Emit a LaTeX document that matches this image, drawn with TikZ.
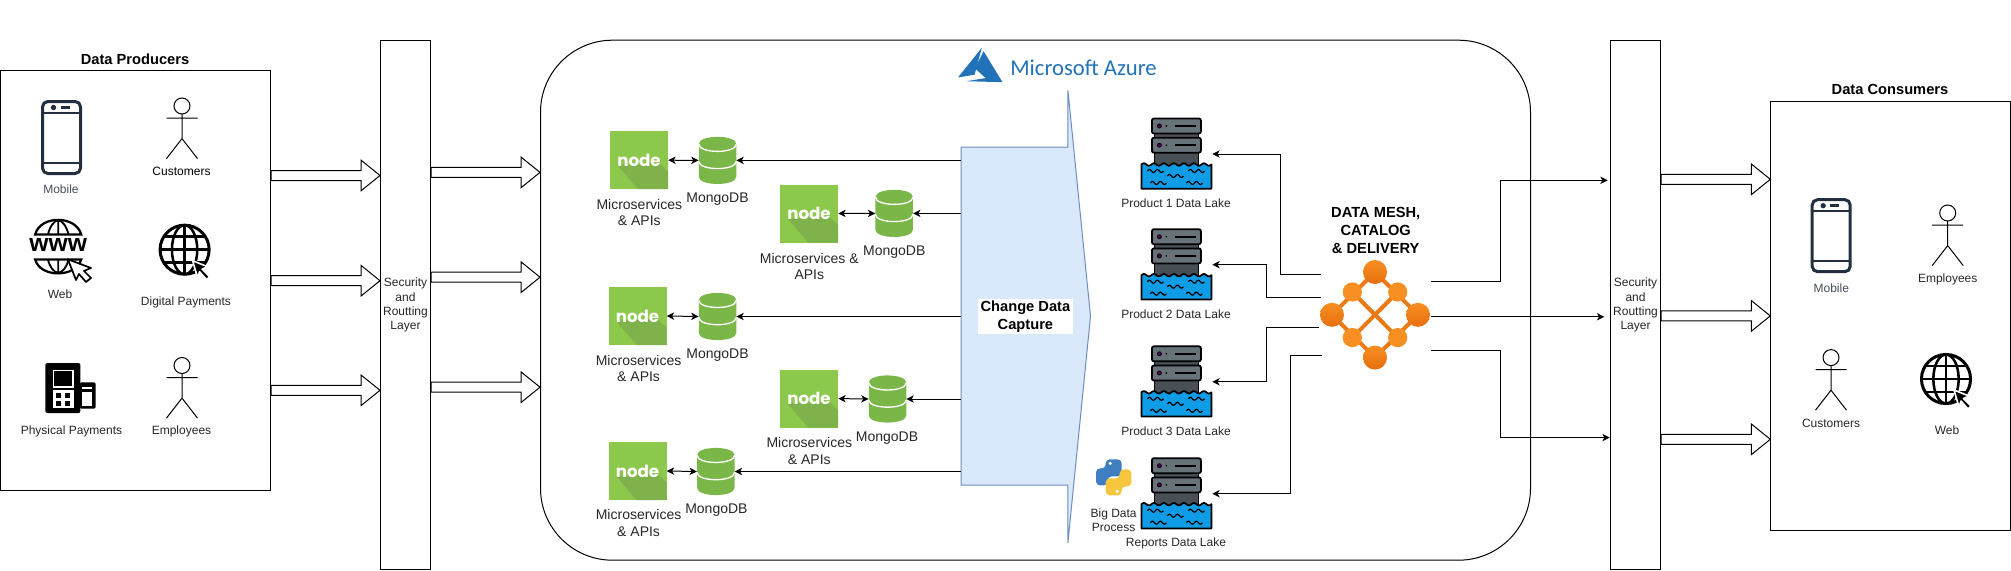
\documentclass[tikz,border=0pt]{standalone}
\usepackage{fontspec}
\setmainfont{Liberation Sans}
\newfontfamily\logofont{Poppins}
\newfontfamily\azurefont{Carlito}
\usetikzlibrary{arrows.meta,calc,positioning}

\definecolor{tilelight}{HTML}{8CC84B}
\definecolor{tiledark}{HTML}{7FB24A}
\definecolor{dbgreen}{HTML}{7AB648}
\definecolor{phoneblue}{HTML}{232F3E}
\definecolor{azureblue}{HTML}{2272B9}
\definecolor{cdcfill}{HTML}{DAE8FC}
\definecolor{cdcline}{HTML}{6C8EBF}
\definecolor{lakeblue}{HTML}{0E9CE6}
\definecolor{servergray}{HTML}{687279}
\definecolor{ballhi}{HTML}{F88F22}
\definecolor{balllo}{HTML}{E66F0E}
\definecolor{pyblue}{HTML}{3F7FC1}
\definecolor{pyyellow}{HTML}{F6C63F}

\tikzset{
  boxed/.style={draw,line width=0.75pt,inner sep=0pt},
  lbl/.style={inner sep=0pt,align=center,text=black!85,font=\fontsize{9}{10.8}\selectfont},
  lblbig/.style={inner sep=0pt,align=center,text=black!85,font=\fontsize{10.5}{12.6}\selectfont},
  lblbold/.style={inner sep=0pt,align=center,font=\fontsize{11}{13.3}\selectfont\bfseries},
  conn/.style={line width=0.75pt,-{Stealth[length=5.5pt,width=5.5pt,inset=1.5pt]}},
  twoway/.style={line width=0.75pt,{Stealth[length=5.5pt,width=5.5pt,inset=1.5pt]}-{Stealth[length=5.5pt,width=5.5pt,inset=1.5pt]}},
  fatarrow/.style={line width=0.75pt,to path={let \p1=(\tikztostart),\p2=(\tikztotarget) in
    (\x1,\y1+3.75pt) -- (\x2-14.25pt,\y1+3.75pt) -- (\x2-14.25pt,\y1+11.5pt) -- (\x2,\y1)
    -- (\x2-14.25pt,\y1-11.5pt) -- (\x2-14.25pt,\y1-3.75pt) -- (\x1,\y1-3.75pt) -- cycle}},
  pics/phoneicon/.style={code={
    \draw[phoneblue,line width=2.25pt,rounded corners=4pt] (-19,-36) rectangle (19,36);
    \draw[phoneblue,line width=1.5pt] (-19,-24.7) -- (19,-24.7) (-19,25.5) -- (19,25.5);
    \fill[phoneblue] (-8,-30) circle[radius=2pt];
    \draw[phoneblue,line width=2pt] (-1,-30) -- (8,-30);
  }},
  pics/actor/.style={code={
    \draw[line width=0.75pt] (0,0) circle[radius=6pt];
    \draw[line width=0.75pt] (0,8) -- (0,32.6) (-15.5,12) -- (15.5,12)
      (-15.5,52.6) -- (0,32.6) -- (15.5,52.6);
  }},
  pics/globeicon/.style={code={
    \draw[line width=2.25pt] (0,0) circle[radius=18.4pt];
    \draw[line width=1.9pt] (0,0) ellipse[x radius=9.5pt,y radius=18.4pt];
    \draw[line width=1.9pt] (0,-24.5) -- (0,24.5) (-24.5,0) -- (24.5,0)
      (-20.5,-13) -- (20.5,-13) (-20.5,13) -- (20.5,13);
    \filldraw[fill=black,draw=white,line width=1.2pt,line join=round] (8,11) -- (23,17) -- (17.5,19.5)
      -- (25,27) -- (22,30) -- (15,22) -- (13,28) -- cycle;
  }},
  pics/wwwicon/.style={code={
    \draw[line width=1.7pt] (-24.8,-15.5) .. controls (-20,-35) and (16,-35) .. (21.2,-15.5) -- cycle;
    \draw[line width=1.4pt] (-1.8,-30) -- (-1.8,-15.5) (-12,-15.5) .. controls (-10,-24) and (-6,-29) .. (-1.8,-30)
      .. controls (2.5,-29) and (6.5,-24) .. (8.5,-15.5);
    \draw[line width=1.7pt] (-24.8,9.5) .. controls (-20,28) and (16,28) .. (21.2,9.5) -- cycle;
    \draw[line width=1.4pt] (-1.8,23) -- (-1.8,9.5) (-12,9.5) .. controls (-10,18) and (-6,22) .. (-1.8,23)
      .. controls (2.5,22) and (6.5,18) .. (8.5,9.5);
    \node[inner sep=0pt,font=\fontsize{18.5}{18.5}\selectfont\bfseries] (txt) at (-1.8,-5) {www};
    \filldraw[fill=white,draw=black,line width=1.3pt,line join=round] (7.9,9.3) -- (31,18) -- (24,21)
      -- (31,28) -- (26,32) -- (19,24) -- (16,30) -- cycle;
  }},
  pics/payicon/.style={code={
    \fill[black,rounded corners=1.5pt] (-25.6,-25) rectangle (9.4,25);
    \fill[black,rounded corners=1pt] (9,-5.6) rectangle (24.7,20.6);
    \fill[white] (11,4) rectangle (21,17.5);
    \fill[white] (11,-1) rectangle (21,0.5);
    \draw[white,line width=1.4pt] (-17.5,-17.5) rectangle (2,-1);
    \fill[white] (-18.5,2.3) rectangle (3,19.6);
    \foreach \kx in {-15.3,-5.6} \foreach \ky in {4.8,12.8} \fill[black] (\kx,\ky) rectangle ++(5,5);
  }},
  pics/nodetile/.style={code={
    \node[minimum width=43.5pt,minimum height=43.5pt,inner sep=0pt,fill=tilelight] (box) at (0,0) {};
    \fill[tiledark] (-21.5,5) -- (-0.8,29) -- (29,29) -- (29,11.3) -- (19.6,2.7) -- cycle;
    \node[inner sep=0pt,text=white,font=\logofont\fontsize{12.5}{13}\selectfont\bfseries] (txt) at (0,0) {node};
  }},
  pics/mongoicon/.style={code={
    \node[minimum width=28pt,minimum height=35pt,inner sep=0pt] (box) at (0,0) {};
    \fill[dbgreen] (-18.75,-16.3) .. controls (-18.75,-26) and (18.75,-26) .. (18.75,-16.3)
      -- (18.75,16.3) .. controls (18.75,26) and (-18.75,26) .. (-18.75,16.3) -- cycle;
    \draw[white,line width=1pt] (-18.75,-16.3) .. controls (-18.75,-6.6) and (18.75,-6.6) .. (18.75,-16.3);
    \draw[white,line width=1pt] (-18.75,0.9) .. controls (-18.75,10.6) and (18.75,10.6) .. (18.75,0.9);
  }},
  pics/lakeicon/.style={code={
    \node[minimum width=53.5pt,minimum height=53.5pt,inner sep=0pt] (box) at (0,0) {};
    \filldraw[fill=servergray!70!black,line width=1.3pt] (-22,-21) rectangle (22,13);
    \foreach \sy in {-28,-8.8} {
      \filldraw[fill=servergray,line width=1.3pt,rounded corners=1.5pt] (-24.5,\sy-7.5) rectangle (24.5,\sy+7.5);
      \filldraw[fill=violet!70!black,line width=0.6pt] (-17,\sy) circle[radius=1.5pt];
      \fill[black] (-10,\sy) circle[radius=0.7pt];
      \draw[line width=1.2pt] (-1,\sy) -- (20,\sy);
    }
    \filldraw[fill=lakeblue,line width=1.3pt,line join=round] (-35,10.5) -- plot[domain=-35:35,samples=71] (\x,{10.5+1.2*sin(\x*36)})
      -- (35,34.7) -- (-35,34.7) -- cycle;
    \foreach \wx/\wy in {-21/17,-1/22,20/17,-18/29,18/29}
      \draw[line width=0.9pt] plot[domain=-8:8,samples=17] ({\wx+\x},{\wy-1.5*sin(\x*45)});
  }},
  pics/meshicon/.style={code={
    \node[minimum width=82.5pt,minimum height=82.5pt,inner sep=0pt] (box) at (0,0) {};
    \draw[balllo!70!ballhi,line width=3pt] (0,-42.8) -- (-43,0) -- (0,42.8) -- (43,0) -- cycle
      (-22.7,-22.8) -- (22.7,22.8) (22.7,-22.8) -- (-22.7,22.8);
    \foreach \bx/\by in {0/-42.8,-43/0,43/0,0/42.8}
      \shade[top color=ballhi,bottom color=balllo] (\bx,\by) circle[radius=9pt];
    \foreach \bx/\by in {-22.7/-22.8,22.7/-22.8,-22.7/22.8,22.7/22.8}
      \fill[ballhi] (\bx,\by) circle[radius=7.2pt];
  }},
  pics/pyicon/.style={code={
    \fill[pyblue,rounded corners=3pt] (-8,-9) -- (-8,-18) -- (8,-18) -- (8,-1) -- (-6,-1) -- (-6,8) -- (-17.7,8) -- (-17.7,-9) -- cycle;
    \fill[pyyellow,rounded corners=3pt] (8,9) -- (8,18) -- (-8,18) -- (-8,1) -- (6,1) -- (6,-8) -- (17.7,-8) -- (17.7,9) -- cycle;
    \fill[white] (-3.5,-14) circle[radius=1.3pt] (3.5,14) circle[radius=1.3pt];
  }},
  pics/azureicon/.style={code={
    \fill[azureblue] (1.8,-17.2) -- (-22,12.4) -- (-5.4,9.7) -- cycle;
    \fill[azureblue] (3.6,-13.8) -- (-5,3.4) -- (5.7,13.1) -- (-13.6,16.2) -- (22.5,17.2) -- cycle;
  }},
}

\begin{document}
\begin{tikzpicture}[x=0.75pt,y=-0.75pt]
\useasboundingbox (0,0) rectangle (2011,571);


% Producers
\node[boxed,minimum width=202.5pt,minimum height=314.7pt] (prod) at (135.5,280.5) {};
\node[lblbold] (prodtitle) at (135,59) {Data Producers};
\pic (prodphone) at (61.5,137.5) {phoneicon};
\node[lbl,text=phoneblue!85] (prodmobile) at (61,189.3) {Mobile};
\pic (prodactor1) at (182,106) {actor};
\node[lbl,text=black] (prodcust) at (181.5,171.4) {Customers};
\pic (prodwww) at (60,250) {wwwicon};
\node[lbl] (prodweb) at (60,294.5) {Web};
\pic (prodglobe) at (184.6,249.7) {globeicon};
\node[lbl] (proddigital) at (186,302.4) {Digital Payments};
\pic (prodpay) at (71,388) {payicon};
\node[lbl] (prodphys) at (71.5,431.4) {Physical Payments};
\pic (prodactor2) at (182,365.5) {actor};
\node[lbl] (prodemp) at (181.5,431.4) {Employees};

% Security bars
\node[boxed,lbl,text=black!85,minimum width=37.5pt,minimum height=397pt] (bar1) at (405.5,305.2) {Security\\and\\Routting\\Layer};
\node[boxed,lbl,text=black!85,minimum width=37.5pt,minimum height=397pt] (bar2) at (1635.5,305.2) {Security\\and\\Routting\\Layer};

% Azure frame
\node[boxed,minimum width=742.5pt,minimum height=390pt,rounded corners=54pt] (azure) at (1035.5,300.2) {};
\pic (azurelogo) at (980,65) {azureicon};
\node[inner sep=0pt,text=azureblue,font=\azurefont\fontsize{17}{20}\selectfont] (azuretext) at (1083.5,68) {Microsoft Azure};

% Fat arrows
\foreach \yy in {175.5,280.7,390.3}
  \draw[fatarrow] (prod.east |- 0,\yy) to (bar1.west |- 0,\yy);
\foreach \yy in {172.4,277.2,387.2}
  \draw[fatarrow] (bar1.east |- 0,\yy) to (azure.west |- 0,\yy);
\foreach \yy in {179.3,315.9,439.3}
  \draw[fatarrow] (bar2.east |- 0,\yy) to (1770.3,\yy);

% Change data capture
\node[inner sep=0pt,minimum width=80pt,minimum height=253.5pt] (cdcbody) at (1014.5,316.2) {};
\draw[fill=cdcfill,draw=cdcline,line width=0.75pt] (961,147.2) -- (1067.9,147.2) -- (1067.9,90.3) -- (1090.5,316.2)
  -- (1067.9,542.8) -- (1067.9,485.2) -- (961,485.2) -- cycle;
\node[lblbold,fill=white,minimum width=71pt,minimum height=26.6pt] (cdctext) at (1025.4,316.7) {Change Data\\Capture};

% Microservices and databases
\foreach \nm/\tx/\ty in {ms1/639/160.2,ms2/809/213.5,ms3/637.5/316,ms4/809/398.6,ms5/637.5/471}
  \pic (\nm) at (\tx,\ty) {nodetile};
\foreach \nm/\tx/\ty in {db1/717.5/160.4,db2/894.2/213.4,db3/717.5/316.5,db4/887.5/399,db5/715.8/471.5}
  \pic (\nm) at (\tx,\ty) {mongoicon};

\node[lblbig] (ms1text) at (639.3,212.4) {Microservices\\\& APIs};
\node[lblbig] (ms2text) at (809.3,266.4) {Microservices \&\\APIs};
\node[lblbig] (ms3text) at (638.6,368.4) {Microservices\\\& APIs};
\node[lblbig] (ms4text) at (809.3,451.3) {Microservices\\\& APIs};
\node[lblbig] (ms5text) at (638.6,523) {Microservices\\\& APIs};
\node[lblbig] (db1text) at (717.5,199) {MongoDB};
\node[lblbig] (db2text) at (894.3,252.4) {MongoDB};
\node[lblbig] (db3text) at (717.5,354.8) {MongoDB};
\node[lblbig] (db4text) at (887,438) {MongoDB};
\node[lblbig] (db5text) at (716.4,510) {MongoDB};

\foreach \i in {1,...,5} {
  \draw[twoway] (ms\i box.east) -- (db\i box.west);
  \draw[conn] (cdcbody.west |- db\i box.east) -- (db\i box.east);
}

% Data lakes
\foreach \nm/\ty in {lake1/154,lake2/264.7,lake3/381.8,lake4/493.7}
  \pic (\nm) at (1176.4,\ty) {lakeicon};
\node[lbl] (lake1text) at (1176,203.4) {Product 1 Data Lake};
\node[lbl] (lake2text) at (1176,314.5) {Product 2 Data Lake};
\node[lbl] (lake3text) at (1176,431.4) {Product 3 Data Lake};
\node[lbl] (lake4text) at (1176,543) {Reports Data Lake};
\pic (python) at (1113.7,477.4) {pyicon};
\node[lbl] (pythontext) at (1113.6,520) {Big Data\\Process};

% Mesh
\node[lblbold] (meshtext) at (1375.7,230.5) {DATA MESH,\\CATALOG\\\& DELIVERY};
\pic (mesh) at (1375,314.8) {meshicon};
\coordinate (tap1) at (1321,274);
\coordinate (tap2) at (1321,297.2);
\coordinate (tap3) at (1318.6,327.2);
\coordinate (tap4) at (1321.8,355.2);
\coordinate (out1) at (1430.7,281);
\coordinate (out2) at (1430.7,316.8);
\coordinate (out3) at (1430.7,350);
\coordinate (in1) at (1607.7,180.3);
\coordinate (in2) at (1604.3,316.8);
\coordinate (in3) at (1609.7,437.6);

\draw[conn] (tap1) -- ++(-40.6,0) |- (lake1box.east);
\draw[conn] (tap2) -- ++(-54.6,0) |- (lake2box.east);
\draw[conn] (tap3) -- ++(-52.2,0) |- (lake3box.east);
\draw[conn] (tap4) -- ++(-31.4,0) |- (lake4box.east);
\draw[conn] (out1) -- ++(69.7,0) |- (in1);
\draw[conn] (out2) -- (in2);
\draw[conn] (out3) -- ++(69.7,0) |- (in3);

% Consumers
\node[boxed,minimum width=180.3pt,minimum height=322pt] (cons) at (1890.5,316) {};
\node[lblbold] (constitle) at (1890,89.7) {Data Consumers};
\pic (consphone) at (1831.2,235.7) {phoneicon};
\node[lbl,text=phoneblue!85] (consmobile) at (1831.3,288.3) {Mobile};
\pic (consactor1) at (1947.7,213) {actor};
\node[lbl] (consemp) at (1947.7,279.3) {Employees};
\pic (consactor2) at (1831,357.6) {actor};
\node[lbl] (conscust) at (1831,423.4) {Customers};
\pic (consglobe) at (1946,379) {globeicon};
\node[lbl] (consweb) at (1947,430.3) {Web};


% -------------------------------------------


\end{tikzpicture}
\end{document}
